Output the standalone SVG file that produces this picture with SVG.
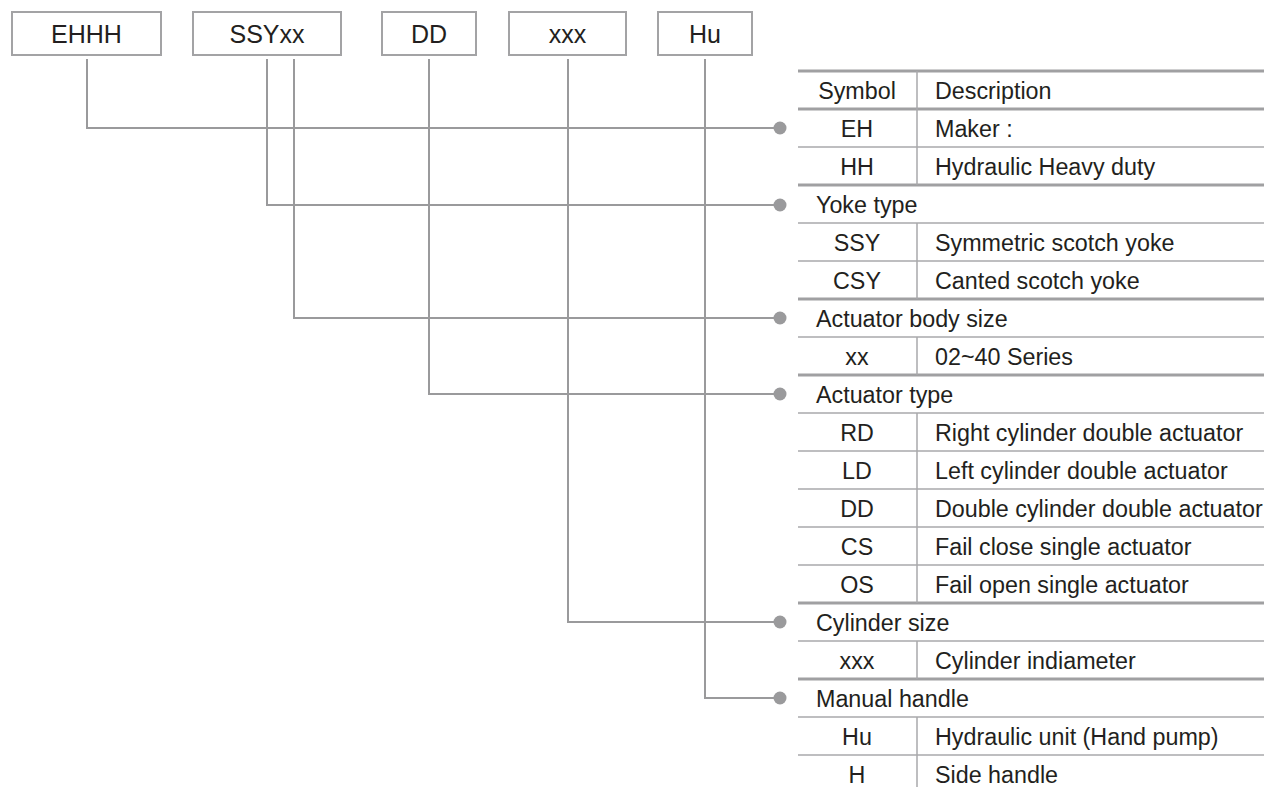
<svg xmlns="http://www.w3.org/2000/svg" width="1264" height="787" viewBox="0 0 1264 787">
<style>
.box{fill:#fff;stroke:#a3a3a5;stroke-width:2}
.t{font-family:"Liberation Sans",Arial,sans-serif;font-size:23.3px;fill:#231f20}
.b{font-size:25px}
.c{text-anchor:middle}
.conn{fill:none;stroke:#9a9a9c;stroke-width:2}
.dot{fill:#9a9a9c}
.thin{stroke:#a9a9ab;stroke-width:1.5}
.thick{stroke:#a0a0a2;stroke-width:3}
</style>
<rect width="1264" height="787" fill="#fff"/>
<g id="code-EHHH"><rect class="box" x="12" y="12" width="149" height="43"/><text class="t b c" x="86.5" y="42.5">EHHH</text></g>
<g id="code-SSYxx"><rect class="box" x="193" y="12" width="148" height="43"/><text class="t b c" x="267" y="42.5">SSYxx</text></g>
<g id="code-DD"><rect class="box" x="382" y="12" width="94" height="43"/><text class="t b c" x="429" y="42.5">DD</text></g>
<g id="code-xxx"><rect class="box" x="509" y="12" width="117" height="43"/><text class="t b c" x="567.5" y="42.5">xxx</text></g>
<g id="code-Hu"><rect class="box" x="658" y="12" width="94" height="43"/><text class="t b c" x="705" y="42.5">Hu</text></g>
<g id="connectors">
<path class="conn" d="M87 59V128H780"/>
<path class="conn" d="M267 59V205H780"/>
<path class="conn" d="M294 59V318H780"/>
<path class="conn" d="M429 59V394H780"/>
<path class="conn" d="M568 59V622H780"/>
<path class="conn" d="M705 59V698H780"/>
<circle class="dot" cx="780" cy="128" r="6.5"/>
<circle class="dot" cx="780" cy="205" r="6.5"/>
<circle class="dot" cx="780" cy="318" r="6.5"/>
<circle class="dot" cx="780" cy="394" r="6.5"/>
<circle class="dot" cx="780" cy="622" r="6.5"/>
<circle class="dot" cx="780" cy="698" r="6.5"/>
</g>
<g id="table">
<g class="thick">
<line x1="798" y1="71" x2="1264" y2="71"/><line x1="798" y1="109" x2="1264" y2="109"/><line x1="798" y1="185" x2="1264" y2="185"/><line x1="798" y1="299" x2="1264" y2="299"/><line x1="798" y1="375" x2="1264" y2="375"/><line x1="798" y1="603" x2="1264" y2="603"/><line x1="798" y1="679" x2="1264" y2="679"/>
</g>
<g class="thin">
<line x1="798" y1="147" x2="1264" y2="147"/><line x1="798" y1="223" x2="1264" y2="223"/><line x1="798" y1="261" x2="1264" y2="261"/><line x1="798" y1="337" x2="1264" y2="337"/><line x1="798" y1="413" x2="1264" y2="413"/><line x1="798" y1="451" x2="1264" y2="451"/><line x1="798" y1="489" x2="1264" y2="489"/><line x1="798" y1="527" x2="1264" y2="527"/><line x1="798" y1="565" x2="1264" y2="565"/><line x1="798" y1="641" x2="1264" y2="641"/><line x1="798" y1="717" x2="1264" y2="717"/><line x1="798" y1="755" x2="1264" y2="755"/>
<line x1="917" y1="71" x2="917" y2="185"/><line x1="917" y1="223" x2="917" y2="299"/><line x1="917" y1="337" x2="917" y2="375"/><line x1="917" y1="413" x2="917" y2="603"/><line x1="917" y1="641" x2="917" y2="679"/><line x1="917" y1="717" x2="917" y2="787"/>
</g>
<text class="t c" x="857" y="98.5">Symbol</text><text class="t" x="935" y="98.5">Description</text>
<text class="t c" x="857" y="136.5">EH</text><text class="t" x="935" y="136.5">Maker :</text>
<text class="t c" x="857" y="174.5">HH</text><text class="t" x="935" y="174.5">Hydraulic Heavy duty</text>
<text class="t" x="816" y="212.5">Yoke type</text>
<text class="t c" x="857" y="250.5">SSY</text><text class="t" x="935" y="250.5">Symmetric scotch yoke</text>
<text class="t c" x="857" y="288.5">CSY</text><text class="t" x="935" y="288.5">Canted scotch yoke</text>
<text class="t" x="816" y="326.5">Actuator body size</text>
<text class="t c" x="857" y="364.5">xx</text><text class="t" x="935" y="364.5">02~40 Series</text>
<text class="t" x="816" y="402.5">Actuator type</text>
<text class="t c" x="857" y="440.5">RD</text><text class="t" x="935" y="440.5">Right cylinder double actuator</text>
<text class="t c" x="857" y="478.5">LD</text><text class="t" x="935" y="478.5">Left cylinder double actuator</text>
<text class="t c" x="857" y="516.5">DD</text><text class="t" x="935" y="516.5">Double cylinder double actuator</text>
<text class="t c" x="857" y="554.5">CS</text><text class="t" x="935" y="554.5">Fail close single actuator</text>
<text class="t c" x="857" y="592.5">OS</text><text class="t" x="935" y="592.5">Fail open single actuator</text>
<text class="t" x="816" y="630.5">Cylinder size</text>
<text class="t c" x="857" y="668.5">xxx</text><text class="t" x="935" y="668.5">Cylinder indiameter</text>
<text class="t" x="816" y="706.5">Manual handle</text>
<text class="t c" x="857" y="744.5">Hu</text><text class="t" x="935" y="744.5">Hydraulic unit (Hand pump)</text>
<text class="t c" x="857" y="782.5">H</text><text class="t" x="935" y="782.5">Side handle</text>
</g>
</svg>
